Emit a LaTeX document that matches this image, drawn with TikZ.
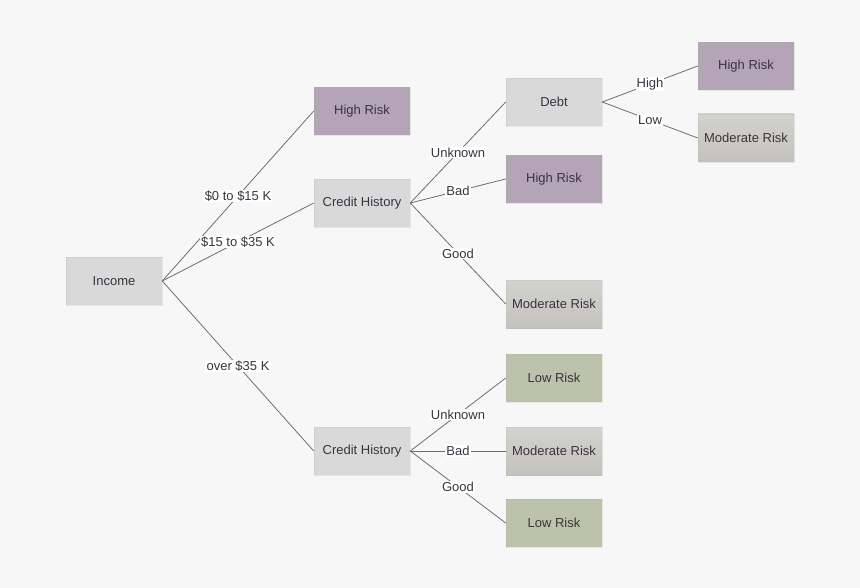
\documentclass[tikz,border=0pt]{standalone}
\usepackage{fontspec}
\setmainfont{Liberation Sans}
\definecolor{bg}{HTML}{F7F7F7}
\definecolor{greybox}{HTML}{D9D9D9}
\definecolor{highrisk}{HTML}{B3A5B6}
\definecolor{modtop}{HTML}{D2D2CE}
\definecolor{modbot}{HTML}{C4C2BD}
\definecolor{lowrisk}{HTML}{BCC3AA}
\definecolor{edge}{HTML}{6E6E6E}
\definecolor{txt}{HTML}{3A3340}
\tikzset{
  box/.style={draw=white!70!black, draw opacity=0.25, minimum width=96*0.75pt, minimum height=48*0.75pt,
    inner sep=0pt, font=\fontsize{9.75pt}{11pt}\selectfont, text=txt},
  decision/.style={box, fill=greybox},
  high/.style={box, fill=highrisk},
  moderate/.style={box, top color=modtop, bottom color=modbot},
  low/.style={box, fill=lowrisk},
  branch/.style={draw=edge, line width=0.6pt},
  lbl/.style={fill=white, inner sep=0.8pt, font=\fontsize{9.75pt}{11pt}\selectfont, text=txt}
}
\begin{document}
\begin{tikzpicture}[x=0.75pt, y=-0.75pt]
\fill[bg] (0,0) rectangle (860,588);
\useasboundingbox (0,0) rectangle (860,588);

% decision nodes
\node[decision] (income) at (114,281) {Income};
\node[decision] (ch1) at (362,203) {Credit History};
\node[decision] (ch2) at (362,451) {Credit History};
\node[decision] (debt) at (554,102) {Debt};

% outcome leaves
\node[high] (hr1) at (362,111) {High Risk};
\node[high] (hr2) at (554,179) {High Risk};
\node[moderate] (mr1) at (554,304) {Moderate Risk};
\node[high] (hr3) at (746,66) {High Risk};
\node[moderate] (mr2) at (746,138) {Moderate Risk};
\node[low] (lr1) at (554,378) {Low Risk};
\node[moderate] (mr3) at (554,451) {Moderate Risk};
\node[low] (lr2) at (554,523) {Low Risk};

% branches from income
\path[branch] (income.east) -- node[lbl] {\$0 to \$15 K} (hr1.west);
\path[branch] (income.east) -- node[lbl] {\$15 to \$35 K} (ch1.west);
\path[branch] (income.east) -- node[lbl] {over \$35 K} (ch2.west);

% branches from first credit history
\path[branch] (ch1.east) -- node[lbl] {Unknown} (debt.west);
\path[branch] (ch1.east) -- node[lbl] {Bad} (hr2.west);
\path[branch] (ch1.east) -- node[lbl] {Good} (mr1.west);

% branches from debt
\path[branch] (debt.east) -- node[lbl] {High} (hr3.west);
\path[branch] (debt.east) -- node[lbl] {Low} (mr2.west);

% branches from second credit history
\path[branch] (ch2.east) -- node[lbl, pos=0.5] {Unknown} (lr1.west);
\path[branch] (ch2.east) -- node[lbl] {Bad} (mr3.west);
\path[branch] (ch2.east) -- node[lbl] {Good} (lr2.west);
\end{tikzpicture}
\end{document}
